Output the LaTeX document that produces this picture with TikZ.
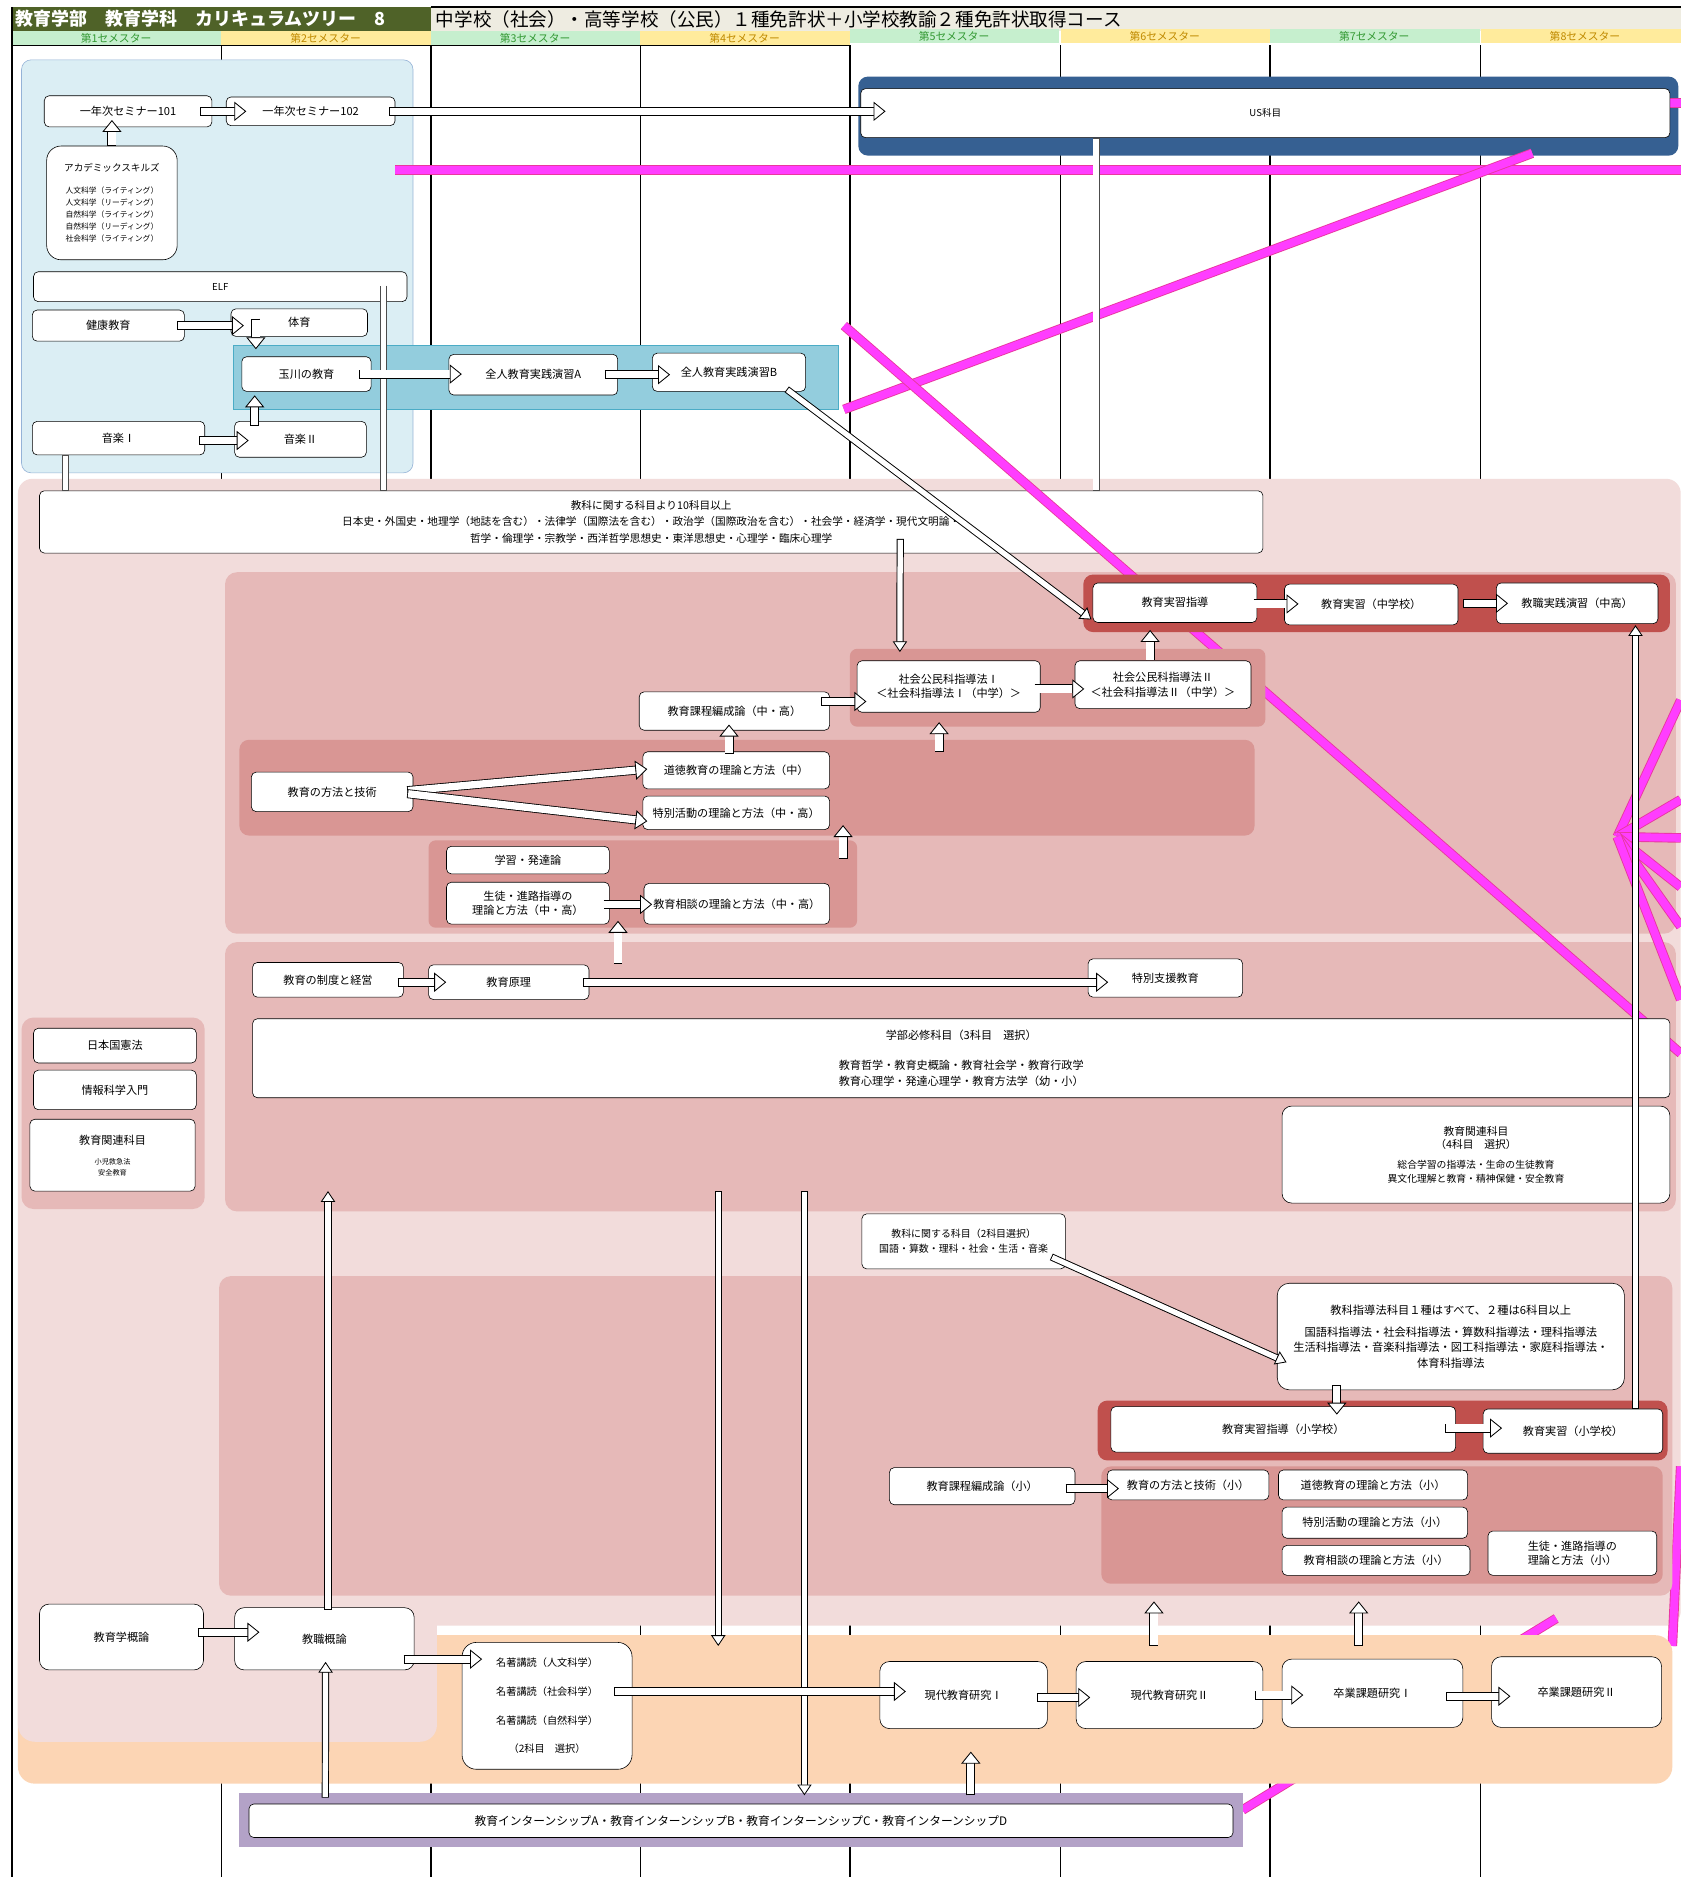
\documentclass[tikz,border=0pt]{standalone}
\usepackage{fontspec}
\setmainfont{Noto Sans CJK JP}
\usetikzlibrary{arrows.meta,calc}
\definecolor{hdrgreen}{HTML}{4F6228}
\definecolor{hdrbeige}{HTML}{EEECE1}
\definecolor{semg}{HTML}{C6EFCE}
\definecolor{semgt}{HTML}{339933}
\definecolor{semy}{HTML}{FFEB9C}
\definecolor{semyt}{HTML}{C08A00}
\definecolor{skyfill}{HTML}{DBEEF4}
\definecolor{skyedge}{HTML}{95B3D7}
\definecolor{tamafill}{HTML}{93CDDD}
\definecolor{tamaedge}{HTML}{4BACC6}
\definecolor{usblue}{HTML}{366092}
\definecolor{pinkA}{HTML}{F2DCDB}
\definecolor{pinkB}{HTML}{E6B9B8}
\definecolor{roseband}{HTML}{D99694}
\definecolor{redband}{HTML}{C0504D}
\definecolor{peach}{HTML}{FCD5B4}
\definecolor{lilac}{HTML}{B3A2C7}
\definecolor{magfill}{HTML}{FF3DFF}
\definecolor{magedge}{HTML}{E8389E}
\newcommand{\flow}[2]{%
  \draw[line width=7.5pt, black, shorten >=9pt] #1 -- #2;
  \draw[line width=6.1pt, white, shorten <=0.7pt, -{Triangle[length=10pt, width=16pt, fill=white, color=black, line width=0.7pt]}] #1 -- #2;}
\newcommand{\slimflow}[2]{%
  \draw[line width=6pt, black, shorten >=8pt] #1 -- #2;
  \draw[line width=4.4pt, white, shorten <=0.8pt, -{Triangle[length=9pt, width=12pt, fill=white, color=black, line width=0.7pt]}] #1 -- #2;}
\newcommand{\shaftline}[2]{%
  \draw[line width=6pt, black!70] #1 -- #2;
  \draw[line width=4.6pt, white, shorten <=0.7pt, shorten >=0.7pt] #1 -- #2;}
\begin{document}
\begin{tikzpicture}[x=1pt, y=-1pt,
  course/.style={draw, line width=0.5pt, fill=white, rounded corners=4pt, align=center, inner sep=1pt, font=\fontsize{9.3}{12}\selectfont},
  semcell/.style={font=\fontsize{9}{9}\selectfont, inner sep=0pt},
  magline/.style={line width=6.5pt, draw=magfill, preaction={draw=magedge, line width=8pt}}]
  \fill[white] (0,0) rectangle (1404,1568);
  \useasboundingbox (0,0) rectangle (1404,1568);
  % header
  \fill[hdrgreen] (10,6) rectangle (360,26);
  \fill[hdrbeige] (360,6) rectangle (1404,26);
  \node[anchor=west, text=white, font=\bfseries\fontsize{15}{15}\selectfont, inner sep=0pt] (title) at (13,16) {教育学部　教育学科　カリキュラムツリー　8};
  \node[anchor=west, font=\fontsize{15.5}{15}\selectfont, inner sep=0pt] (subtitle) at (364,16) {中学校（社会）・高等学校（公民）１種免許状＋小学校教諭２種免許状取得コース};
  \draw[line width=2pt] (360,6) -- (1404,6);
  \foreach \n/\x/\y/\fc/\tc in {1/10/26/semg/semgt, 2/185/26/semy/semyt, 3/360/26/semg/semgt, 4/535/26/semy/semyt, 5/710/24/semg/semgt, 6/886/24/semy/semyt, 7/1061/24/semg/semgt, 8/1237/24/semy/semyt} {
    \fill[\fc] (\x,\y) rectangle ++(175,12);
    \node[semcell, text=\tc] (sem\n) at ($(\x,\y)+(87,6)$) {第{\n}セメスター};
  }
  \draw[line width=1.1pt] (10,38) -- (710,38);
  % semester columns
  \foreach \x in {185,535,886,1237} \draw[line width=0.5pt] (\x,38) -- (\x,1568);
  \foreach \x in {360,710,1061} \draw[line width=1.1pt] (\x,38) -- (\x,1568);
  \draw[line width=1.4pt] (10,6) -- (10,1568);
  % regions
  \filldraw[fill=skyfill, draw=skyedge, line width=0.5pt, rounded corners=8pt] (18,50) rectangle (345,395);
  \filldraw[fill=tamafill, draw=tamaedge, line width=0.4pt] (195,288) rectangle (700,342);
  \fill[usblue, rounded corners=8pt] (717,64) rectangle (1402,130);
  \fill[pinkA, rounded corners=12pt] (15,400) rectangle (1404,1358);
  \fill[pinkB, rounded corners=10pt] (188,478) rectangle (1400,780);
  \fill[pinkB, rounded corners=10pt] (188,787) rectangle (1400,1012);
  \fill[pinkB, rounded corners=10pt] (18,850) rectangle (171,1010);
  \node[course, minimum width=1022pt, minimum height=52pt, font=\fontsize{8.9}{13.5}\selectfont] (kyoka10) at (544,436) {教科に関する科目より10科目以上\\日本史・外国史・地理学（地誌を含む）・法律学（国際法を含む）・政治学（国際政治を含む）・社会学・経済学・現代文明論・\\哲学・倫理学・宗教学・西洋哲学思想史・東洋思想史・心理学・臨床心理学};
  % stray lines
  \draw[magline] (330,142) -- (1404,142);
  \draw[magline] (705,342) -- (1280,128);
  \draw[magline] (705,272) -- (1404,880);
  \foreach \ey in {585,668,700,741,774,835} \draw[magline] (1351,699) -- (1404,\ey);
  \draw[magline] (1038,1512) -- (1300,1352);
  \draw[magline] (1404,1225) -- (1397,1375);
  \draw[magline] (1394,86) -- (1404,86);
  \fill[peach, rounded corners=14pt] (15,1366) rectangle (1397,1490);
  \fill[pinkA, rounded corners=14pt] (15,1300) rectangle (365,1455);
  \fill[pinkB, rounded corners=10pt] (183,1066) rectangle (1397,1333);
  \fill[lilac] (200,1498) rectangle (1038,1543);
  \fill[redband, rounded corners=8pt] (905,480) rectangle (1395,528);
  \fill[roseband, rounded corners=6pt] (710,542) rectangle (1057,607);
  \fill[roseband, rounded corners=8pt] (200,618) rectangle (1048,698);
  \fill[roseband, rounded corners=6pt] (358,702) rectangle (716,775);
  \fill[redband, rounded corners=8pt] (917,1170) rectangle (1393,1220);
  \fill[roseband, rounded corners=8pt] (920,1225) rectangle (1389,1323);
  % semesters 1-2
  \node[course, minimum width=140pt, minimum height=26pt] (s101) at (107,93) {一年次セミナー101};
  \node[course, minimum width=141pt, minimum height=24pt] (s102) at (259.5,93) {一年次セミナー102};
  \node[course, rounded corners=12pt, minimum width=109pt, minimum height=95pt, font=\fontsize{6.5}{10}\selectfont] (aca) at (93.5,169.5) {{\fontsize{8}{11}\selectfont アカデミックスキルズ}\\[8pt]人文科学（ライティング）\\人文科学（リーディング）\\自然科学（ライティング）\\自然科学（リーディング）\\社会科学（ライティング）};
  \node[course, minimum width=312pt, minimum height=25pt, font=\fontsize{8}{10}\selectfont] (elf) at (184,239.5) {ELF};
  \node[course, minimum width=127pt, minimum height=26pt] (kenko) at (90.5,272) {健康教育};
  \node[course, minimum width=114pt, minimum height=23pt] (taiiku) at (250,269.5) {体育};
  \node[course, minimum width=108pt, minimum height=29pt] (tama) at (256,312.5) {玉川の教育};
  \node[course, minimum width=141pt, minimum height=34pt] (zenA) at (445.5,313) {全人教育実践演習A};
  \node[course, minimum width=128pt, minimum height=32pt] (zenB) at (609,311) {全人教育実践演習B};
  \node[course, minimum width=144pt, minimum height=28pt] (ongaku1) at (99,366) {音楽Ⅰ};
  \node[course, minimum width=110pt, minimum height=30pt] (ongaku2) at (251,367) {音楽Ⅱ};
  \node[course, minimum width=676pt, minimum height=41pt, font=\fontsize{8}{10}\selectfont] (us) at (1057,94.5) {US科目};
  % secondary school license
  \node[course, minimum width=137pt, minimum height=33pt] (jisshu) at (981.5,503.5) {教育実習指導};
  \node[course, minimum width=145pt, minimum height=34pt] (jisshuC) at (1145.5,505) {教育実習（中学校）};
  \node[course, minimum width=135pt, minimum height=34pt] (enshu) at (1317.5,504) {教職実践演習（中高）};
  \node[course, minimum width=153pt, minimum height=43pt] (shakai1) at (792.5,573.5) {社会公民科指導法Ⅰ\\＜社会科指導法Ⅰ（中学）＞};
  \node[course, minimum width=147pt, minimum height=40pt] (shakai2) at (971.5,572) {社会公民科指導法Ⅱ\\＜社会科指導法Ⅱ（中学）＞};
  \node[course, minimum width=159pt, minimum height=32pt] (katei) at (613.5,594) {教育課程編成論（中・高）};
  \node[course, minimum width=135pt, minimum height=33pt] (hoho) at (277.5,661.5) {教育の方法と技術};
  \node[course, minimum width=156pt, minimum height=31pt] (dotoku) at (615,643.5) {道徳教育の理論と方法（中）};
  \node[course, minimum width=156pt, minimum height=28pt] (tokkatsu) at (615,679) {特別活動の理論と方法（中・高）};
  \node[course, minimum width=136pt, minimum height=23pt] (hattatsu) at (441,718.5) {学習・発達論};
  \node[course, minimum width=136pt, minimum height=35pt] (seito) at (441,754.5) {生徒・進路指導の\\理論と方法（中・高）};
  \node[course, minimum width=155pt, minimum height=34pt] (sodan) at (615.5,755) {教育相談の理論と方法（中・高）};
  % common subjects
  \node[course, minimum width=126pt, minimum height=29pt] (seido) at (274,818.5) {教育の制度と経営};
  \node[course, minimum width=134pt, minimum height=29pt] (genri) at (425,820.5) {教育原理};
  \node[course, minimum width=129pt, minimum height=32pt] (tokushi) at (973.5,817) {特別支援教育};
  \node[course, minimum width=1184pt, minimum height=66pt, font=\fontsize{9.3}{13}\selectfont] (hisshu) at (803,884) {学部必修科目（3科目　選択）\\[12pt]教育哲学・教育史概論・教育社会学・教育行政学\\教育心理学・発達心理学・教育方法学（幼・小）};
  \node[course, rounded corners=8pt, minimum width=324pt, minimum height=81pt, font=\fontsize{8.2}{11}\selectfont] (kanren4) at (1233,964.5) {{\fontsize{9}{13}\selectfont 教育関連科目}\\{\fontsize{9}{13}\selectfont （4科目　選択）}\\[6pt]総合学習の指導法・生命の生徒教育\\異文化理解と教育・精神保健・安全教育};
  \node[course, minimum width=136pt, minimum height=29pt] (kenpo) at (96,873.5) {日本国憲法};
  \node[course, minimum width=136pt, minimum height=33pt] (joho) at (96,910.5) {情報科学入門};
  \node[course, minimum width=138pt, minimum height=60pt, font=\fontsize{6}{9}\selectfont] (kanrenL) at (94,965) {{\fontsize{9.3}{12}\selectfont 教育関連科目}\\[8pt]小児救急法\\安全教育};
  \node[course, minimum width=170pt, minimum height=46pt, font=\fontsize{8.3}{13}\selectfont] (kyoka2) at (805,1037) {教科に関する科目（2科目選択）\\国語・算数・理科・社会・生活・音楽};
  % elementary school license
  \node[course, rounded corners=10pt, minimum width=290pt, minimum height=89pt, font=\fontsize{9.4}{13}\selectfont] (shidoho) at (1212,1116.5) {教科指導法科目１種はすべて、２種は6科目以上\\[5pt]国語科指導法・社会科指導法・算数科指導法・理科指導法\\生活科指導法・音楽科指導法・図工科指導法・家庭科指導法・\\体育科指導法};
  \node[course, minimum width=288pt, minimum height=38pt] (jisshuS1) at (1072,1194) {教育実習指導（小学校）};
  \node[course, minimum width=150pt, minimum height=37pt] (jisshuS2) at (1314,1195.5) {教育実習（小学校）};
  \node[course, minimum width=155pt, minimum height=31pt] (kateiS) at (820.5,1241.5) {教育課程編成論（小）};
  \node[course, minimum width=135pt, minimum height=25pt] (hohoS) at (992.5,1240.5) {教育の方法と技術（小）};
  \node[course, minimum width=158pt, minimum height=25pt] (dotokuS) at (1147,1240.5) {道徳教育の理論と方法（小）};
  \node[course, minimum width=155pt, minimum height=26pt] (tokkatsuS) at (1148.5,1272) {特別活動の理論と方法（小）};
  \node[course, minimum width=157pt, minimum height=25pt] (sodanS) at (1149.5,1303.5) {教育相談の理論と方法（小）};
  \node[course, minimum width=141pt, minimum height=37pt] (seitoS) at (1313.5,1297.5) {生徒・進路指導の\\理論と方法（小）};
  % research and internship
  \node[course, rounded corners=8pt, minimum width=137pt, minimum height=55pt] (gairon) at (101.5,1367.5) {教育学概論};
  \node[course, rounded corners=8pt, minimum width=150pt, minimum height=52pt] (kyoshoku) at (271,1369) {教職概論};
  \node[course, rounded corners=12pt, minimum width=142pt, minimum height=106pt, font=\fontsize{8.5}{24}\selectfont] (meicho) at (457,1425) {名著講読（人文科学）\\名著講読（社会科学）\\名著講読（自然科学）\\（2科目　選択）};
  \node[course, rounded corners=8pt, minimum width=140pt, minimum height=56pt] (gendai1) at (805,1416) {現代教育研究Ⅰ};
  \node[course, rounded corners=8pt, minimum width=156pt, minimum height=56pt] (gendai2) at (977,1416) {現代教育研究Ⅱ};
  \node[course, rounded corners=8pt, minimum width=151pt, minimum height=57pt] (sotsu1) at (1146.5,1414.5) {卒業課題研究Ⅰ};
  \node[course, rounded corners=8pt, minimum width=142pt, minimum height=59pt] (sotsu2) at (1317,1413.5) {卒業課題研究Ⅱ};
  \node[course, minimum width=822pt, minimum height=28pt, font=\fontsize{9.8}{12}\selectfont] (intern) at (619,1521) {教育インターンシップA・教育インターンシップB・教育インターンシップC・教育インターンシップD};
  \coordinate (upA) at (274,995);
  \coordinate (dnA1) at (600,995);
  \coordinate (dnA2) at (672,995);
  \coordinate (dnB1) at (600,1375);
  % bars
  \shaftline{($(elf.east)+(-20,-1)$)}{($(elf.east |- kyoka10.north)+(-20,0)$)}
  \shaftline{($(ongaku1.south west)+(28,0)$)}{($(ongaku1.south west |- kyoka10.north)+(28,0)$)}
  \shaftline{($(us.south west)+(197,0)$)}{($(us.south west |- kyoka10.north)+(197,0)$)}
  % arrows
  \flow{($(s101.east)+(-10,0)$)}{($(s102.west)+(17,0)$)}
  \flow{(aca.north)}{($(aca.north |- s101.south)+(0,-6)$)}
  \flow{($(s102.east)+(-5,0)$)}{($(s102.east -| us.west)+(21,0)$)}
  \flow{($(kenko.east)+(-6,0)$)}{($(kenko.east -| taiiku.west)+(11,0)$)}
  \flow{($(taiiku.south west)+(21,-15)$)}{($(tama.north west)+(12,-6)$)}
  \flow{($(tama.east)+(-10,0)$)}{($(tama.east -| zenA.west)+(11,0)$)}
  \flow{($(zenA.east)+(-11,0)$)}{($(zenA.east -| zenB.west)+(15,0)$)}
  \flow{($(ongaku1.east)+(-5,2)$)}{($(ongaku1.east -| ongaku2.west)+(12,2)$)}
  \flow{($(ongaku2.north west)+(17,4)$)}{($(tama.south west)+(11,3)$)}
  \slimflow{($(zenB.south east)+(-16,-2)$)}{($(jisshu.west)+(-1,14)$)}
  \slimflow{($(kyoka10.south)+(208,-12)$)}{($(shakai1.north west)+(36,-7)$)}
  \flow{($(katei.east)+(-7,-8)$)}{($(katei.east -| shakai1.west)+(8,-8)$)}
  \flow{($(shakai1.east)+(-5,2)$)}{($(shakai1.east -| shakai2.west)+(8,2)$)}
  \flow{($(shakai2.north west)+(63,0)$)}{($(jisshu.south west)+(48,6)$)}
  \flow{($(jisshu.east)+(-3,1)$)}{($(jisshu.east -| jisshuC.west)+(12,1)$)}
  \flow{($(jisshuC.east)+(4,-1)$)}{($(jisshuC.east -| enshu.west)+(10,-1)$)}
  \flow{($(dotoku.north)+(-6,2)$)}{($(katei.south)+(-4.5,-5)$)}
  \flow{($(hoho.east)+(-5,-1)$)}{($(dotoku.west)+(4,-1)$)}
  \flow{($(hoho.east)+(-5,1.5)$)}{($(tokkatsu.west)+(4,7)$)}
  \flow{($(shakai1.south)+(-8,33)$)}{($(shakai1.south)+(-8,8)$)}
  \flow{($(tokkatsu.south east)+(11,24)$)}{($(tokkatsu.south east)+(11,-4)$)}
  \flow{($(seito.east)+(-5,1)$)}{($(seito.east -| sodan.west)+(7,1)$)}
  \flow{($(seito.south east)+(7,33)$)}{($(seito.south east)+(7,-3)$)}
  \flow{($(seido.east)+(-5,2)$)}{($(seido.east -| genri.west)+(15,2)$)}
  \flow{($(genri.east)+(-5,0)$)}{($(genri.east -| tokushi.west)+(17,0)$)}
  \slimflow{($(kyoshoku.north)+(3,2)$)}{(upA)}
  \slimflow{(dnA1)}{(dnB1)}
  \slimflow{(dnA2)}{($(dnA2 |- intern.north)+(0,-7)$)}
  \slimflow{($(kyoka2.east)+(-12,13)$)}{($(shidoho.west)+(8,21.5)$)}
  \flow{($(shidoho.south west)+(50,-4)$)}{($(shidoho.south west |- jisshuS1.north)+(50,7)$)}
  \flow{($(jisshuS1.east)+(-9,-1)$)}{($(jisshuS1.east -| jisshuS2.west)+(16,-1)$)}
  \slimflow{($(jisshuS2.north east)+(-23,0)$)}{($(enshu.south east)+(-19,1)$)}
  \flow{($(kateiS.east)+(-8,2)$)}{($(kateiS.east -| hohoS.west)+(10,2)$)}
  \flow{($(gendai2.north)+(-13,-13)$)}{($(gendai2.north)+(-13,-50)$)}
  \flow{($(sotsu1.north)+(-11.5,-11)$)}{($(sotsu1.north)+(-11.5,-48)$)}
  \flow{($(gairon.east)+(-5,-4)$)}{($(gairon.east -| kyoshoku.west)+(21,-4)$)}
  \flow{($(kyoshoku.east)+(-9,17)$)}{($(kyoshoku.east -| meicho.west)+(17,17)$)}
  \flow{($(meicho.east)+(-15,-12)$)}{($(meicho.east -| gendai1.west)+(22,-12)$)}
  \flow{($(gendai1.east)+(-9,2)$)}{($(gendai1.east -| gendai2.west)+(12,2)$)}
  \flow{($(gendai2.east)+(-7,0)$)}{($(gendai2.east -| sotsu1.west)+(18,0)$)}
  \flow{($(sotsu1.east)+(-14,2.5)$)}{($(sotsu1.east -| sotsu2.west)+(16,2.5)$)}
  \flow{($(intern.north)+(192,-7)$)}{($(gendai1.south)+(6,19)$)}
  \slimflow{($(intern.north west)+(64,-5)$)}{($(kyoshoku.south)+(1,-7)$)}
\end{tikzpicture}
\end{document}
